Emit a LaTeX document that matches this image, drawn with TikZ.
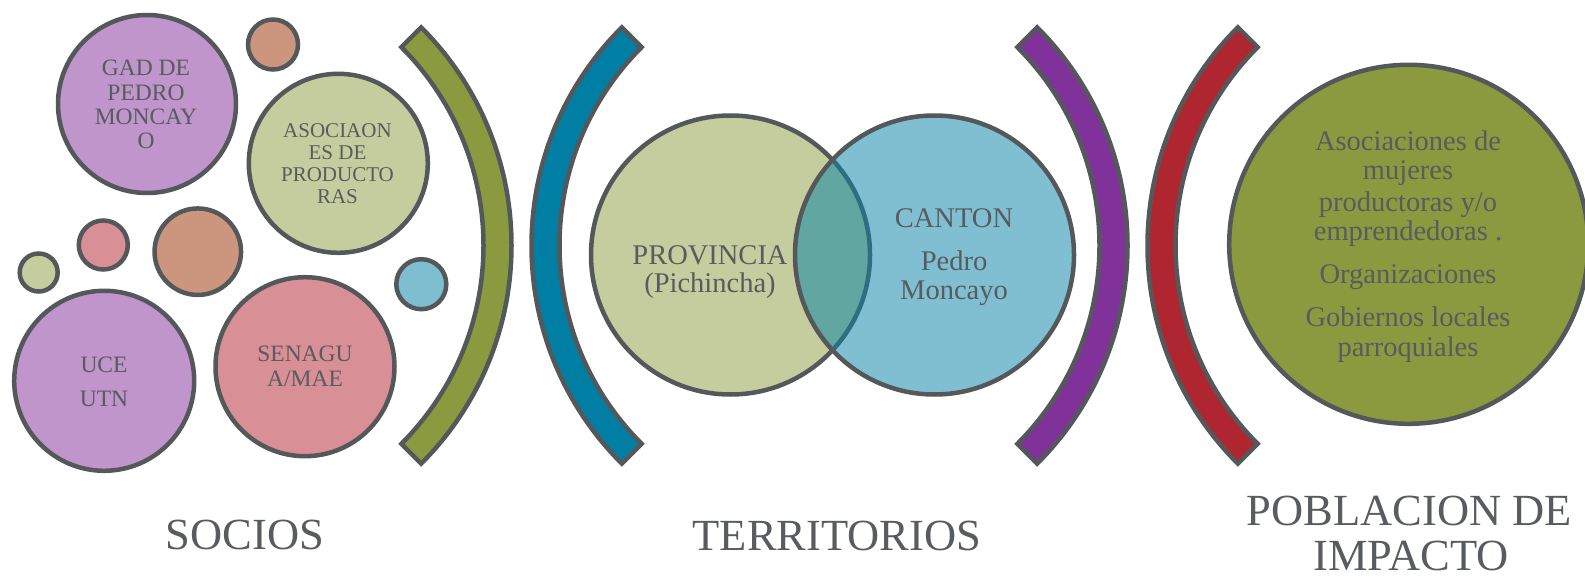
\documentclass[tikz,border=0pt]{standalone}
\usepackage{fontspec}
\setmainfont{Liberation Serif}
\usetikzlibrary{calc}
\definecolor{cPurple}{RGB}{191,149,203}
\definecolor{cOrange}{RGB}{204,150,126}
\definecolor{cLgreen}{RGB}{197,205,158}
\definecolor{cPink}{RGB}{217,143,150}
\definecolor{cLblue}{RGB}{127,190,209}
\definecolor{cOlive}{RGB}{139,154,62}
\definecolor{cTeal}{RGB}{0,126,164}
\definecolor{cVenn}{RGB}{9,132,166}
\definecolor{cVio}{RGB}{129,50,154}
\definecolor{cRed}{RGB}{175,38,49}
\definecolor{cStroke}{RGB}{85,88,91}
\definecolor{cText}{RGB}{88,91,95}
\begin{document}
\begin{tikzpicture}[x=1pt,y=-1pt,
  bubble/.style={circle, draw=cStroke, line width=4.5pt, inner sep=0pt},
  band/.style={draw=cStroke, line width=4.5pt, line join=miter},
  txt/.style={text=cText, anchor=base, inner sep=0pt},
  tsmall/.style={txt, font=\fontsize{23.5}{24}\selectfont},
  tasoc/.style={txt, font=\fontsize{21}{22}\selectfont},
  tmid/.style={txt, font=\fontsize{28.5}{29}\selectfont},
  tbig/.style={txt, font=\fontsize{44.5}{45}\selectfont}]
\useasboundingbox (0,0) rectangle (1585,577);

% ---------- SOCIOS cluster ----------
\node[bubble, fill=cPurple, minimum size=178] (gad) at (147,104) {};
\node[bubble, fill=cOrange, minimum size=50] (o1) at (273,44.5) {};
\node[bubble, fill=cLgreen, minimum size=179] (asoc) at (338.3,163.3) {};
\node[bubble, fill=cPink, minimum size=49] (p1) at (103.3,245) {};
\node[bubble, fill=cOrange, minimum size=86.5] (o2) at (197.8,251.7) {};
\node[bubble, fill=cLgreen, minimum size=38] (g1) at (38.7,272.5) {};
\node[bubble, fill=cLblue, minimum size=50] (b1) at (421.3,284.2) {};
\node[bubble, fill=cPurple, minimum size=180] (uce) at (104.2,380.8) {};
\node[bubble, fill=cPink, minimum size=179] (sen) at (305,366.7) {};

\node[tsmall] (gad1) at (146,76) {GAD DE};
\node[tsmall] (gad2) at (146,100.3) {PEDRO};
\node[tsmall] (gad3) at (146,124.6) {MONCAY};
\node[tsmall] (gad4) at (146,149) {O};

\node[tasoc] (as1) at (337.5,137.8) {ASOCIAON};
\node[tasoc] (as2) at (337.5,159.8) {ES DE};
\node[tasoc] (as3) at (337.5,181.6) {PRODUCTO};
\node[tasoc] (as4) at (337.5,203.3) {RAS};

\node[tsmall] (uc1) at (104,372) {UCE};
\node[tsmall] (uc2) at (104,406) {UTN};

\node[tsmall] (se1) at (305,361.7) {SENAGU};
\node[tsmall] (se2) at (305,386.7) {A/MAE};

% ---------- bands ----------
\coordinate (gc) at (203,245.5);
\coordinate (bc) at (840,245.5);
\coordinate (vc) at (819,245.5);
\coordinate (rc) at (1456,245.5);

\draw[band, fill=cOlive] ($(gc)+(-45:308.5)$) arc[start angle=-45, end angle=45, radius=308.5]
  -- ($(gc)+(45:280.5)$) arc[start angle=45, end angle=-45, radius=280.5] -- cycle;
\draw[band, fill=cTeal] ($(bc)+(135:308.5)$) arc[start angle=135, end angle=225, radius=308.5]
  -- ($(bc)+(225:280.5)$) arc[start angle=225, end angle=135, radius=280.5] -- cycle;
\draw[band, fill=cVio] ($(vc)+(-45:308.5)$) arc[start angle=-45, end angle=45, radius=308.5]
  -- ($(vc)+(45:280.5)$) arc[start angle=45, end angle=-45, radius=280.5] -- cycle;
\draw[band, fill=cRed] ($(rc)+(135:308.5)$) arc[start angle=135, end angle=225, radius=308.5]
  -- ($(rc)+(225:280.5)$) arc[start angle=225, end angle=135, radius=280.5] -- cycle;

% ---------- TERRITORIOS Venn ----------
\node[bubble, fill=cLgreen, minimum size=279] (prov) at (730.5,255) {};
\node[bubble, fill=cVenn, fill opacity=0.52, minimum size=279] (cant) at (934.5,255) {};

\node[tmid] (pr1) at (710,265) {PROVINCIA};
\node[tmid] (pr2) at (710,293) {(Pichincha)};
\node[tmid] (ca1) at (954,228) {CANTON};
\node[tmid] (ca2) at (954,271) {Pedro};
\node[tmid] (ca3) at (954,300) {Moncayo};

% ---------- POBLACION ----------
\node[bubble, fill=cOlive, minimum size=359] (pob) at (1408.7,244.3) {};
\node[tmid] (pb1) at (1408,151) {Asociaciones de};
\node[tmid] (pb2) at (1408,180) {mujeres};
\node[tmid] (pb3) at (1408,211.7) {productoras y/o};
\node[tmid] (pb4) at (1408,240.7) {emprendedoras .};
\node[tmid] (pb5) at (1408,284) {Organizaciones};
\node[tmid] (pb6) at (1408,326.7) {Gobiernos locales};
\node[tmid] (pb7) at (1408,356) {parroquiales};

% ---------- bottom titles ----------
\node[tbig] (socios) at (245,549) {SOCIOS};
\node[tbig] (terr) at (837,550) {TERRITORIOS};
\node[tbig] (pobl1) at (1409.5,525) {POBLACION DE};
\node[tbig] (pobl2) at (1411,570) {IMPACTO};
\end{tikzpicture}
\end{document}
